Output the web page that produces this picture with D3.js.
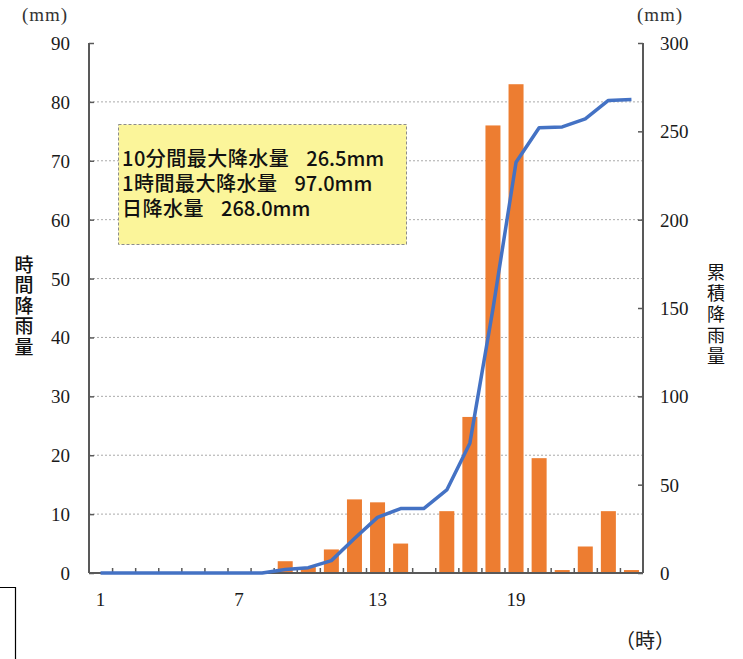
<!DOCTYPE html>
<html>
<head>
<meta charset="utf-8">
<script src="https://cdn.jsdelivr.net/npm/d3@7/dist/d3.min.js"></script>
<style>
  html, body { margin: 0; padding: 0; background: #fff; }
  svg { display: block; }
</style>
</head>
<body>
<svg id="chart" width="743" height="659"></svg>
<script>
// Hourly rainfall (mm) for each hour of the day
const hours = ["1","2","3","4","5","6","7","8","9","10","11","12",
               "13","14","15","16","17","18","19","20","21","22","23","24"];
const hourlyRain = [0,0,0,0,0,0,0,0,2,1,4,12.5,12,5,0,10.5,26.5,76,83,19.5,0.5,4.5,10.5,0.5];
// Cumulative rainfall (mm) at the end of each hour
const cumulativeRain = [0,0,0,0,0,0,0,0,2,3,7,19.5,31.5,36.5,36.5,47,73.5,149.5,232.5,252,252.5,257,267.5,268];
const xTickLabels = ["1","7","13","19"];
const leftTicks = [0,10,20,30,40,50,60,70,80,90];
const rightTicks = [0,50,100,150,200,250,300];
const noteLabels = ["10分間最大降水量", "1時間最大降水量", "日降水量"];
const noteValues = ["26.5mm", "97.0mm", "268.0mm"];

const svg = d3.select("#chart");
const L = 89, R = 643, T = 43, B = 573;
const serif = "'Liberation Serif', 'Times New Roman', serif";
const gothic = "'Noto Sans CJK JP', 'Noto Sans', sans-serif";

const x = d3.scaleBand().domain(hours).range([L, R]).paddingInner(0.35).paddingOuter(0.175);
const yL = d3.scaleLinear().domain([0, 90]).range([B, T]);
const yR = d3.scaleLinear().domain([0, 300]).range([B, T]);

// dotted horizontal gridlines
svg.append("g").selectAll("line")
  .data(leftTicks.filter(d => d > 0 && d < 90))
  .join("line")
  .attr("x1", L).attr("x2", R)
  .attr("y1", d => yL(d)).attr("y2", d => yL(d))
  .attr("stroke", "#aaaaaa").attr("stroke-width", 1)
  .attr("stroke-dasharray", "2,2");

// hourly bars
svg.append("g").selectAll("rect")
  .data(hours.map((h, i) => ({ h, v: hourlyRain[i] })).filter(d => d.v > 0))
  .join("rect")
  .attr("x", d => x(d.h))
  .attr("width", x.bandwidth())
  .attr("y", d => yL(d.v))
  .attr("height", d => yL(0) - yL(d.v))
  .attr("fill", "#ED7D31");

// axes
const axisColor = "#595959";
const gLeft = svg.append("g").attr("transform", `translate(${L},0)`)
  .call(d3.axisLeft(yL).tickValues(leftTicks).tickSize(-5).tickFormat(""));
const gRight = svg.append("g").attr("transform", `translate(${R},0)`)
  .call(d3.axisRight(yR).tickValues(rightTicks).tickSize(-5).tickFormat(""));
const boundaries = hours.slice(1).map(h => x(h) - x.step() * x.paddingInner() / 2);
const gBottom = svg.append("g").attr("transform", `translate(0,${B})`)
  .call(d3.axisBottom(d3.scaleLinear().domain([L, R]).range([L, R]))
    .tickValues(boundaries).tickSize(-5).tickFormat(""));
[gLeft, gRight, gBottom].forEach(g => {
  g.select(".domain").attr("stroke", axisColor).attr("stroke-width", 2);
  g.selectAll(".tick line").attr("stroke", axisColor).attr("stroke-width", 1.5);
});
gBottom.select(".domain").attr("d", `M${L},0H${R}`);
gLeft.select(".domain").attr("d", `M0,${T}V${B}`);
gRight.select(".domain").attr("d", `M0,${T}V${B}`);

// cumulative line
const line = d3.line()
  .x((d, i) => x(hours[i]) + x.bandwidth() / 2)
  .y(d => yR(d));
svg.append("path")
  .datum(cumulativeRain)
  .attr("d", line)
  .attr("fill", "none")
  .attr("stroke", "#4472C4")
  .attr("stroke-width", 3.5)
  .attr("stroke-linejoin", "round")
  .attr("stroke-linecap", "butt");

// tick labels
svg.append("g").selectAll("text")
  .data(leftTicks).join("text")
  .attr("x", 70).attr("y", d => yL(d) + 7)
  .attr("text-anchor", "end")
  .attr("font-family", serif).attr("font-size", 19).attr("fill", "#1a1a1a")
  .text(d => d);
svg.append("g").selectAll("text")
  .data(rightTicks).join("text")
  .attr("x", 660).attr("y", d => yR(d) + 7)
  .attr("text-anchor", "start")
  .attr("font-family", serif).attr("font-size", 19).attr("fill", "#1a1a1a")
  .text(d => d);
svg.append("g").selectAll("text")
  .data(xTickLabels).join("text")
  .attr("x", d => x(d) + x.bandwidth() / 2).attr("y", 606)
  .attr("text-anchor", "middle")
  .attr("font-family", serif).attr("font-size", 19).attr("fill", "#1a1a1a")
  .text(d => d);

// unit labels
svg.append("text").attr("x", 45).attr("y", 21).attr("text-anchor", "middle")
  .attr("font-family", serif).attr("font-size", 19).attr("fill", "#333")
  .attr("letter-spacing", 1).text("(mm)");
svg.append("text").attr("x", 660).attr("y", 21).attr("text-anchor", "middle")
  .attr("font-family", serif).attr("font-size", 19).attr("fill", "#333")
  .attr("letter-spacing", 1).text("(mm)");
svg.append("text").attr("x", 645).attr("y", 648).attr("text-anchor", "middle")
  .attr("font-family", gothic).attr("font-size", 20).attr("fill", "#222")
  .text("（時）");

// vertical axis titles, set top-to-bottom
function verticalTitle(str, cx, top, size, spacing, weight) {
  svg.append("text")
    .attr("x", cx).attr("y", top)
    .attr("writing-mode", "vertical-rl")
    .style("writing-mode", "vertical-rl")
    .attr("text-anchor", "start")
    .attr("font-family", gothic).attr("font-size", size)
    .attr("font-weight", weight).attr("fill", "#111")
    .attr("letter-spacing", spacing)
    .text(str);
}
verticalTitle("時間降雨量", 24, 255, 19, 1.5, 500);
verticalTitle("累積降雨量", 716, 263, 18, 3, 400);

// note box: one text block, one line per statistic
const note = svg.append("g");
note.append("rect")
  .attr("x", 118.5).attr("y", 124.5).attr("width", 288).attr("height", 120)
  .attr("fill", "#FBF59A").attr("stroke", "#8c8c8c")
  .attr("stroke-width", 1).attr("stroke-dasharray", "3,2");
const noteText = note.append("text")
  .attr("x", 122).attr("y", 166)
  .attr("font-family", gothic).attr("font-size", 20).attr("font-weight", 500)
  .attr("fill", "#111");
noteLabels.forEach((label, i) => {
  noteText.append("tspan")
    .attr("x", 122).attr("dy", i === 0 ? 0 : 25)
    .attr("letter-spacing", 0.5).text(label);
  noteText.append("tspan").attr("dx", 17).attr("letter-spacing", 0).text(noteValues[i]);
});

// frame fragment at lower left
svg.append("path")
  .attr("d", "M0,587.5H15.5V659")
  .attr("fill", "none").attr("stroke", "#000").attr("stroke-width", 1.2);
</script>
</body>
</html>
